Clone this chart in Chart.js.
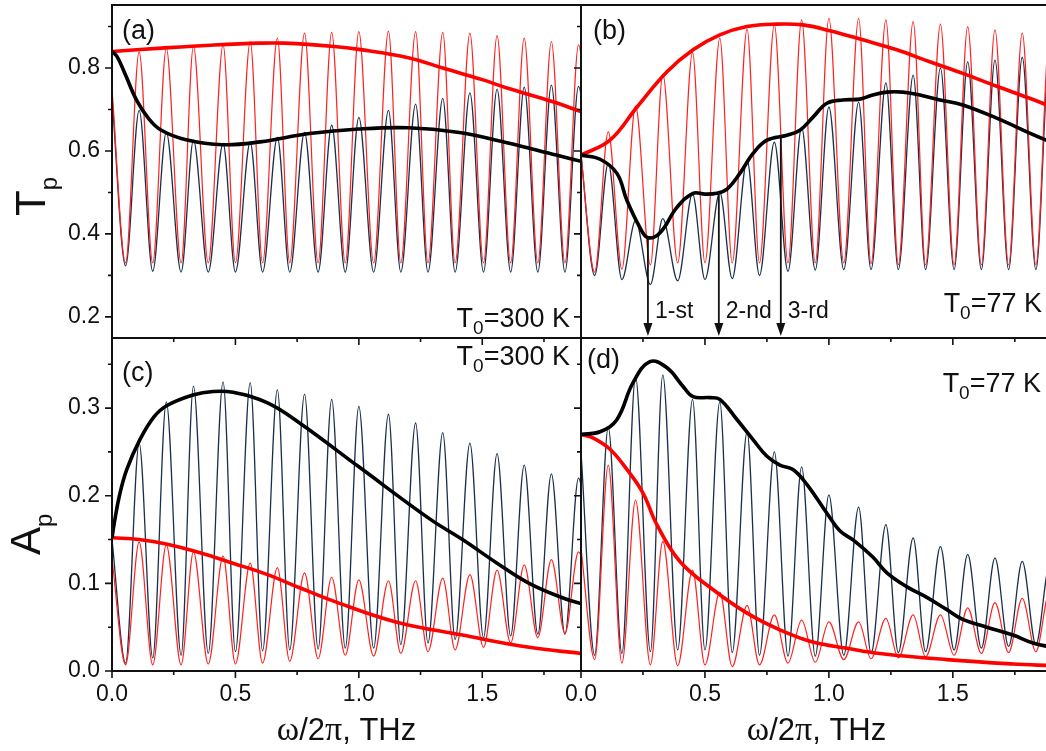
<!DOCTYPE html>
<html>
<head>
<meta charset="utf-8">
<script src="https://cdn.jsdelivr.net/npm/chart.js@4.4.0/dist/chart.umd.min.js"></script>
<style>
  html, body { margin: 0; padding: 0; background: #fff; }
  body { width: 1046px; height: 751px; overflow: hidden; position: relative; }
  canvas { position: absolute; }
</style>
</head>
<body>
<canvas id="panelA"></canvas>
<canvas id="panelB"></canvas>
<canvas id="panelC"></canvas>
<canvas id="panelD"></canvas>
<script>
// positions (THz) of the maxima / minima of the thin oscillating curves
const peakX = [0.11, 0.22, 0.33, 0.45, 0.56, 0.67, 0.78, 0.89, 1.00, 1.12, 1.23, 1.34, 1.45, 1.56, 1.67, 1.78, 1.89];
const dipX = [0.055, 0.165, 0.28, 0.39, 0.50, 0.61, 0.72, 0.835, 0.945, 1.06, 1.17, 1.28, 1.39, 1.505, 1.615, 1.725, 1.835, 1.95];

// (a) T0 = 300 K, transmission
const aRedStart = 0.75;
const aRedPeaks = [0.839, 0.848, 0.852, 0.856, 0.864, 0.872, 0.884, 0.886, 0.888, 0.889, 0.888, 0.886, 0.884, 0.878, 0.872, 0.864, 0.856];
const aRedDips = [0.33, 0.33, 0.33, 0.33, 0.33, 0.33, 0.33, 0.33, 0.33, 0.33, 0.33, 0.33, 0.33, 0.33, 0.33, 0.33, 0.33, 0.33];
const aBlueStart = 0.73;
const aBluePeaks = [0.698, 0.645, 0.626, 0.618, 0.621, 0.633, 0.645, 0.662, 0.681, 0.698, 0.713, 0.727, 0.740, 0.749, 0.754, 0.759, 0.756];
const aBlueDips = [0.323, 0.31, 0.308, 0.308, 0.308, 0.308, 0.308, 0.308, 0.308, 0.308, 0.308, 0.308, 0.308, 0.308, 0.308, 0.308, 0.308, 0.308];
const aRedEnvX = [0, 0.2, 0.4, 0.6, 0.7, 0.9, 1.0, 1.2, 1.34, 1.5, 1.6, 1.78, 1.9];
const aRedEnvY = [0.84, 0.848, 0.855, 0.86, 0.86, 0.852, 0.845, 0.825, 0.80, 0.772, 0.752, 0.72, 0.695];
const aBlackEnvX = [0, 0.02, 0.05, 0.1, 0.15, 0.2, 0.3, 0.45, 0.6, 0.8, 1.0, 1.2, 1.4, 1.6, 1.8, 1.9];
const aBlackEnvY = [0.84, 0.828, 0.79, 0.722, 0.677, 0.65, 0.627, 0.615, 0.622, 0.642, 0.653, 0.656, 0.645, 0.62, 0.59, 0.575];

// (b) T0 = 77 K, transmission
const bRedStart = 0.59;
const bRedPeaks = [0.646, 0.708, 0.785, 0.837, 0.872, 0.894, 0.904, 0.916, 0.920, 0.920, 0.916, 0.912, 0.906, 0.900, 0.892, 0.884, 0.876];
const bRedDips = [0.308, 0.315, 0.325, 0.33, 0.33, 0.33, 0.33, 0.33, 0.33, 0.33, 0.328, 0.326, 0.325, 0.325, 0.325, 0.325, 0.325, 0.325];
const bBlueStart = 0.59;
const bBluePeaks = [0.57, 0.432, 0.437, 0.497, 0.50, 0.578, 0.621, 0.657, 0.706, 0.718, 0.764, 0.783, 0.80, 0.815, 0.819, 0.826, 0.83];
const bBlueDips = [0.30, 0.29, 0.278, 0.287, 0.29, 0.292, 0.30, 0.31, 0.313, 0.314, 0.314, 0.314, 0.314, 0.314, 0.314, 0.314, 0.314, 0.314];
const bRedEnvX = [0, 0.117, 0.226, 0.347, 0.452, 0.56, 0.669, 0.79, 0.895, 1.004, 1.137, 1.274, 1.407, 1.54, 1.677, 1.81, 1.9];
const bRedEnvY = [0.59, 0.626, 0.706, 0.791, 0.844, 0.880, 0.900, 0.906, 0.904, 0.890, 0.868, 0.844, 0.815, 0.787, 0.756, 0.727, 0.706];
const bBlackEnvX = [0, 0.077, 0.145, 0.185, 0.238, 0.27, 0.319, 0.387, 0.452, 0.5, 0.548, 0.589, 0.641, 0.694, 0.75, 0.831, 0.883, 0.935, 0.992, 1.056, 1.125, 1.177, 1.234, 1.298, 1.367, 1.448, 1.54, 1.677, 1.81, 1.9];
const bBlackEnvY = [0.59, 0.58, 0.546, 0.481, 0.415, 0.391, 0.403, 0.464, 0.498, 0.496, 0.498, 0.508, 0.546, 0.594, 0.626, 0.638, 0.65, 0.681, 0.715, 0.723, 0.725, 0.735, 0.742, 0.742, 0.735, 0.723, 0.711, 0.679, 0.643, 0.62];
// resonance markers in (b)
const arrowX = [0.27, 0.556, 0.806];
const arrowFrom = [0.391, 0.50, 0.638];
const arrowText = ['1-st', '2-nd', '3-rd'];

// (c) T0 = 300 K, amplification
const cRedStart = 0.128;
const cRedPeaks = [0.147, 0.144, 0.136, 0.131, 0.123, 0.118, 0.112, 0.107, 0.104, 0.103, 0.103, 0.106, 0.11, 0.115, 0.121, 0.127, 0.136];
const cRedDips = [0.007, 0.007, 0.007, 0.008, 0.008, 0.009, 0.011, 0.014, 0.018, 0.017, 0.02, 0.022, 0.024, 0.027, 0.032, 0.038, 0.043, 0.05];
const cBlueStart = 0.15;
const cBluePeaks = [0.26, 0.307, 0.325, 0.33, 0.329, 0.321, 0.316, 0.31, 0.302, 0.293, 0.283, 0.272, 0.26, 0.248, 0.235, 0.225, 0.22];
const cBlueDips = [0.009, 0.015, 0.018, 0.020, 0.022, 0.023, 0.024, 0.025, 0.026, 0.026, 0.030, 0.032, 0.036, 0.038, 0.040, 0.042, 0.042, 0.045];
const cRedEnvX = [0, 0.11, 0.22, 0.357, 0.49, 0.63, 0.76, 0.895, 1.15, 1.42, 1.69, 1.9];
const cRedEnvY = [0.152, 0.15, 0.145, 0.135, 0.123, 0.11, 0.095, 0.08, 0.056, 0.041, 0.027, 0.02];
const cBlackEnvX = [0, 0.01, 0.03, 0.06, 0.113, 0.17, 0.223, 0.328, 0.41, 0.49, 0.63, 0.76, 1.0, 1.29, 1.42, 1.56, 1.69, 1.83, 1.9];
const cBlackEnvY = [0.152, 0.17, 0.2, 0.23, 0.264, 0.29, 0.303, 0.315, 0.319, 0.318, 0.306, 0.283, 0.233, 0.173, 0.15, 0.123, 0.10, 0.083, 0.077];

// (d) T0 = 77 K, amplification
const dRedStart = 0.14;
const dRedPeaks = [0.235, 0.195, 0.148, 0.115, 0.09, 0.075, 0.064, 0.058, 0.056, 0.056, 0.06, 0.064, 0.064, 0.072, 0.078, 0.083, 0.09];
const dRedDips = [0.013, 0.009, 0.007, 0.006, 0.007, 0.005, 0.007, 0.009, 0.01, 0.013, 0.014, 0.015, 0.016, 0.018, 0.02, 0.021, 0.022, 0.024];
const dBlueStart = 0.25;
const dBluePeaks = [0.278, 0.336, 0.338, 0.31, 0.307, 0.273, 0.25, 0.233, 0.201, 0.187, 0.167, 0.152, 0.142, 0.133, 0.129, 0.125, 0.12];
const dBlueDips = [0.018, 0.02, 0.022, 0.024, 0.024, 0.021, 0.018, 0.017, 0.017, 0.018, 0.02, 0.021, 0.022, 0.024, 0.026, 0.028, 0.03, 0.032];
const dRedEnvX = [0, 0.048, 0.117, 0.185, 0.25, 0.306, 0.399, 0.532, 0.67, 0.802, 0.935, 1.073, 1.206, 1.476, 1.742, 1.9];
const dRedEnvY = [0.27, 0.266, 0.253, 0.23, 0.203, 0.167, 0.125, 0.093, 0.066, 0.047, 0.033, 0.026, 0.02, 0.013, 0.008, 0.006];
const dBlackEnvX = [0, 0.077, 0.145, 0.21, 0.278, 0.347, 0.411, 0.452, 0.52, 0.56, 0.629, 0.694, 0.75, 0.802, 0.855, 0.911, 0.992, 1.044, 1.1, 1.177, 1.234, 1.315, 1.395, 1.476, 1.54, 1.637, 1.742, 1.823, 1.9];
const dBlackEnvY = [0.27, 0.273, 0.287, 0.329, 0.353, 0.346, 0.325, 0.313, 0.312, 0.31, 0.287, 0.264, 0.245, 0.235, 0.23, 0.213, 0.18, 0.16, 0.149, 0.13, 0.112, 0.096, 0.084, 0.07, 0.059, 0.05, 0.041, 0.032, 0.027];

// axis ticks
const xMajor = [0, 0.5, 1.0, 1.5];
const xMinor = [0.25, 0.75, 1.25, 1.75];
const tMajor = [0.2, 0.4, 0.6, 0.8];
const tMinor = [0.3, 0.5, 0.7, 0.9];
const aMajor = [0, 0.1, 0.2, 0.3];
const aMinor = [0.05, 0.15, 0.25, 0.35];

const FONT = "'Liberation Sans', Arial, sans-serif";
const SERIF = "'Liberation Serif', 'Times New Roman', serif";
const INK = '#111';

function wave(start, dips, peaks) {
    const pts = [{ x: 0, y: start }];
    dipX.forEach((x, i) => {
        pts.push({ x: x, y: dips[i] });
        if (i < peakX.length) pts.push({ x: peakX[i], y: peaks[i] });
    });
    return pts;
}

function curve(xs, ys) {
    return xs.map((x, i) => ({ x: x, y: ys[i] }));
}

// text made of pieces, some of them subscripts
function drawPieces(ctx, pieces, x, y, align) {
    let total = 0;
    pieces.forEach(p => {
        ctx.font = p.size + 'px ' + (p.family || FONT);
        p.w = ctx.measureText(p.t).width;
        total += p.w;
    });
    let cx = x;
    if (align === 'right') cx = x - total;
    if (align === 'center') cx = x - total / 2;
    ctx.textAlign = 'left';
    ctx.textBaseline = 'alphabetic';
    pieces.forEach(p => {
        ctx.font = p.size + 'px ' + (p.family || FONT);
        ctx.fillText(p.t, cx, y + (p.dy || 0));
        cx += p.w;
    });
}

// keep the plot area exactly where the boxes say
function noPad(s) {
    s.paddingLeft = 0;
    s.paddingRight = 0;
    s.paddingTop = 0;
    s.paddingBottom = 0;
}

const panelDecor = {
    id: 'panelDecor',
    afterDraw(chart, args, o) {
        const { ctx, chartArea: a, scales: { x, y } } = chart;
        ctx.save();
        ctx.fillStyle = INK;
        ctx.strokeStyle = INK;

        // outward tick marks
        ctx.lineWidth = 1.6;
        ctx.beginPath();
        xMajor.forEach(v => { const px = x.getPixelForValue(v); ctx.moveTo(px, a.bottom); ctx.lineTo(px, a.bottom + 7); });
        xMinor.forEach(v => { const px = x.getPixelForValue(v); ctx.moveTo(px, a.bottom); ctx.lineTo(px, a.bottom + 4); });
        o.yMajor.forEach(v => { const py = y.getPixelForValue(v); ctx.moveTo(a.left, py); ctx.lineTo(a.left - 7, py); });
        o.yMinor.forEach(v => { const py = y.getPixelForValue(v); ctx.moveTo(a.left, py); ctx.lineTo(a.left - 4, py); });
        ctx.stroke();

        // frame
        ctx.lineWidth = 2;
        ctx.strokeRect(a.left, a.top, a.right - a.left, a.bottom - a.top);

        // panel letter
        ctx.font = '27px ' + FONT;
        ctx.textAlign = 'left';
        ctx.textBaseline = 'alphabetic';
        ctx.fillText(o.letter, a.left + o.letterPos[0], a.top + o.letterPos[1]);

        // temperature
        drawPieces(ctx, [
            { t: 'T', size: 27 },
            { t: '0', size: 19, dy: 7 },
            { t: '=' + o.temp + ' K', size: 27 }
        ], a.right + o.tempPos[0], a.top + o.tempPos[1], 'right');

        // resonance arrows
        if (o.arrows) {
            ctx.lineWidth = 1.8;
            arrowX.forEach((v, i) => {
                const px = x.getPixelForValue(v);
                const top = y.getPixelForValue(arrowFrom[i]);
                const tip = a.bottom - 2;
                ctx.beginPath();
                ctx.moveTo(px, top);
                ctx.lineTo(px, tip - 10);
                ctx.stroke();
                ctx.beginPath();
                ctx.moveTo(px, tip);
                ctx.lineTo(px - 4.5, tip - 13);
                ctx.lineTo(px + 4.5, tip - 13);
                ctx.closePath();
                ctx.fill();
                ctx.font = '23px ' + FONT;
                ctx.textAlign = 'left';
                ctx.fillText(arrowText[i], px + 7, a.top + 313);
            });
        }

        // y title (rotated, with subscript p)
        if (o.yTitle) {
            ctx.save();
            ctx.translate(o.yTitle.x - chart.canvas.offsetLeft, o.yTitle.y - chart.canvas.offsetTop);
            ctx.rotate(-Math.PI / 2);
            drawPieces(ctx, [
                { t: o.yTitle.t, size: 42 },
                { t: 'p', size: 24, dy: 12 }
            ], 0, 0, 'left');
            ctx.restore();
        }

        // x title
        if (o.xTitle) {
            drawPieces(ctx, [
                { t: '\u03c9', size: 34, family: SERIF },
                { t: '/2', size: 31 },
                { t: '\u03c0', size: 34, family: SERIF },
                { t: ', THz', size: 31 }
            ], (a.left + a.right) / 2, 740 - chart.canvas.offsetTop, 'center');
        }
        ctx.restore();
    }
};

function makePanel(id, box, area, cfg) {
    const el = document.getElementById(id);
    el.style.left = box[0] + 'px';
    el.style.top = box[1] + 'px';
    el.width = box[2];
    el.height = box[3];
    const yW = area[0] - box[0];
    const xH = box[1] + box[3] - area[3];
    const tickFont = { family: FONT, size: 23 };
    const smooth = { cubicInterpolationMode: 'default', tension: 0.4 };

    return new Chart(el, {
        type: 'line',
        data: {
            datasets: [
                { data: cfg.black, borderColor: '#000000', borderWidth: 3.6, order: 0, ...smooth },
                { data: cfg.red, borderColor: '#ff0000', borderWidth: 3.6, order: 1, ...smooth },
                { data: cfg.redWave, borderColor: '#ff2222', borderWidth: 1.2, order: 2 },
                { data: cfg.blueWave, borderColor: '#1b2f4a', borderWidth: 1.3, order: 3 }
            ]
        },
        options: {
            responsive: false,
            animation: false,
            layout: { padding: { left: 0, top: area[1] - box[1], right: box[0] + box[2] - area[2], bottom: 0 } },
            elements: {
                point: { radius: 0 },
                line: { cubicInterpolationMode: 'monotone', fill: false }
            },
            plugins: {
                legend: { display: false },
                tooltip: { enabled: false },
                panelDecor: cfg.decor
            },
            scales: {
                x: {
                    type: 'linear', min: 0, max: 1.9,
                    afterFit: s => { s.height = xH; noPad(s); },
                    grid: { display: false, drawTicks: false },
                    border: { display: false },
                    ticks: {
                        display: cfg.xLabels, stepSize: 0.5, includeBounds: false, autoSkip: false,
                        maxRotation: 0, padding: 10, color: INK, font: tickFont,
                        callback: v => v.toFixed(1)
                    }
                },
                y: {
                    type: 'linear', min: cfg.yMin, max: cfg.yMax,
                    afterFit: s => { s.width = yW; noPad(s); },
                    grid: { display: false, drawTicks: false },
                    border: { display: false },
                    ticks: {
                        display: cfg.yLabels, stepSize: cfg.yStep, includeBounds: false,
                        padding: 12, color: INK, font: tickFont,
                        callback: v => v.toFixed(1)
                    }
                }
            }
        },
        plugins: [panelDecor]
    });
}

makePanel('panelA', [0, 0, 600, 345], [112, 5, 581, 338], {
    black: curve(aBlackEnvX, aBlackEnvY), red: curve(aRedEnvX, aRedEnvY),
    redWave: wave(aRedStart, aRedDips, aRedPeaks), blueWave: wave(aBlueStart, aBlueDips, aBluePeaks),
    xLabels: false, yLabels: true, yMin: 0.149, yMax: 0.952, yStep: 0.2,
    decor: { letter: '(a)', letterPos: [10, 34], temp: '300', tempPos: [-11, 322],
             yMajor: tMajor, yMinor: tMinor, yTitle: { t: 'T', x: 45, y: 216 } }
});

makePanel('panelB', [480, 0, 590, 345], [581, 5, 1052, 338], {
    black: curve(bBlackEnvX, bBlackEnvY), red: curve(bRedEnvX, bRedEnvY),
    redWave: wave(bRedStart, bRedDips, bRedPeaks), blueWave: wave(bBlueStart, bBlueDips, bBluePeaks),
    xLabels: false, yLabels: false, yMin: 0.149, yMax: 0.952, yStep: 0.2,
    decor: { letter: '(b)', letterPos: [12, 34], temp: '77', tempPos: [-10, 307],
             yMajor: tMajor, yMinor: tMinor, arrows: true }
});

makePanel('panelC', [0, 330, 600, 421], [112, 338, 581, 671], {
    black: curve(cBlackEnvX, cBlackEnvY), red: curve(cRedEnvX, cRedEnvY),
    redWave: wave(cRedStart, cRedDips, cRedPeaks), blueWave: wave(cBlueStart, cBlueDips, cBluePeaks),
    xLabels: true, yLabels: true, yMin: 0, yMax: 0.38, yStep: 0.1,
    decor: { letter: '(c)', letterPos: [10, 43], temp: '300', tempPos: [-11, 27],
             yMajor: aMajor, yMinor: aMinor, yTitle: { t: 'A', x: 40, y: 555 }, xTitle: true }
});

makePanel('panelD', [480, 330, 590, 421], [581, 338, 1052, 671], {
    black: curve(dBlackEnvX, dBlackEnvY), red: curve(dRedEnvX, dRedEnvY),
    redWave: wave(dRedStart, dRedDips, dRedPeaks), blueWave: wave(dBlueStart, dBlueDips, dBluePeaks),
    xLabels: true, yLabels: false, yMin: 0, yMax: 0.38, yStep: 0.1,
    decor: { letter: '(d)', letterPos: [6, 30], temp: '77', tempPos: [-11, 54],
             yMajor: aMajor, yMinor: aMinor, xTitle: true }
});
</script>
</body>
</html>
